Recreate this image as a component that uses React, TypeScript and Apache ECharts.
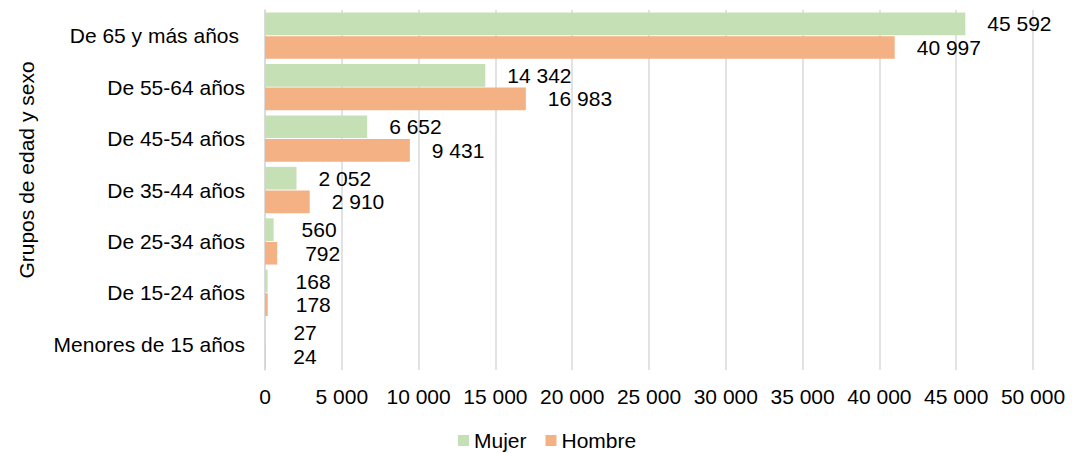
import React, { useEffect, useRef } from "react";
import * as echarts from "echarts";

const categories = [
  "De 65 y más años",
  "De 55-64 años",
  "De 45-54 años",
  "De 35-44 años",
  "De 25-34 años",
  "De 15-24 años",
  "Menores de 15 años",
];
const mujer = [45592, 14342, 6652, 2052, 560, 168, 27];
const hombre = [40997, 16983, 9431, 2910, 792, 178, 24];
const seriesNames = ["Mujer", "Hombre"];
const colors = ["#c5e0b4", "#f4b183"];
const axisTitle = "Grupos de edad y sexo";

const FONT = "Liberation Sans";
const FS = 21;
const fmt = (v: number) => String(v).replace(/\B(?=(\d{3})+(?!\d))/g, " ");

function items(values: number[]) {
  return values.map((v) => ({
    value: v,
    label: { distance: v < 1000 ? 28 : 22 },
  }));
}

export default function App() {
  const ref = useRef<HTMLDivElement>(null);
  useEffect(() => {
    const chart = echarts.init(ref.current!, undefined, { renderer: "svg" });
    chart.setOption({
      animation: false,
      textStyle: { fontFamily: FONT },
      grid: { left: 265, right: 39, top: 10, bottom: 83 },
      legend: {
        top: 425,
        left: 453,
        data: seriesNames,
        icon: "rect",
        itemWidth: 11,
        itemHeight: 11,
        itemGap: 19,
        textStyle: { fontSize: FS, color: "#000", fontFamily: FONT },
      },
      graphic: [
        {
          type: "text",
          x: 26,
          y: 170,
          rotation: Math.PI / 2,
          style: {
            text: axisTitle,
            fontSize: FS,
            fontFamily: FONT,
            fill: "#000",
            align: "center",
            verticalAlign: "middle",
          },
        },
      ],
      xAxis: {
        type: "value",
        min: 0,
        max: 50000,
        interval: 5000,
        axisLine: { show: false },
        axisTick: { show: false },
        splitLine: { lineStyle: { color: "#d9d9d9", width: 1.5 } },
        axisLabel: {
          fontSize: FS,
          color: "#000",
          margin: 16,
          fontFamily: FONT,
          formatter: (v: number) => fmt(v),
        },
      },
      yAxis: {
        type: "category",
        inverse: true,
        data: categories,
        axisLine: { show: true, lineStyle: { color: "#d9d9d9", width: 1.5 } },
        axisTick: { show: false },
        axisLabel: {
          fontSize: FS,
          color: "#000",
          margin: 20,
          fontFamily: FONT,
          formatter: (v: string) => (v === categories[0] ? "{p|" + v + "}" : v),
          rich: { p: { fontSize: FS, color: "#000", fontFamily: FONT, padding: [0, 6, 0, 0] } },
        },
      },
      series: [
        { name: seriesNames[0], data: items(mujer), color: colors[0] },
        { name: seriesNames[1], data: items(hombre), color: colors[1] },
      ].map((s) => ({
        type: "bar",
        name: s.name,
        data: s.data,
        itemStyle: { color: s.color },
        barGap: "4%",
        barCategoryGap: "10%",
        label: {
          show: true,
          position: "right",
          fontSize: FS,
          color: "#000",
          fontFamily: FONT,
          formatter: (p: any) => fmt(p.value),
        },
      })),
    });
    return () => chart.dispose();
  }, []);
  return (
    <div
      ref={ref}
      style={{ position: "fixed", left: 0, top: 0, width: 1072, height: 453, background: "#fff" }}
    />
  );
}
